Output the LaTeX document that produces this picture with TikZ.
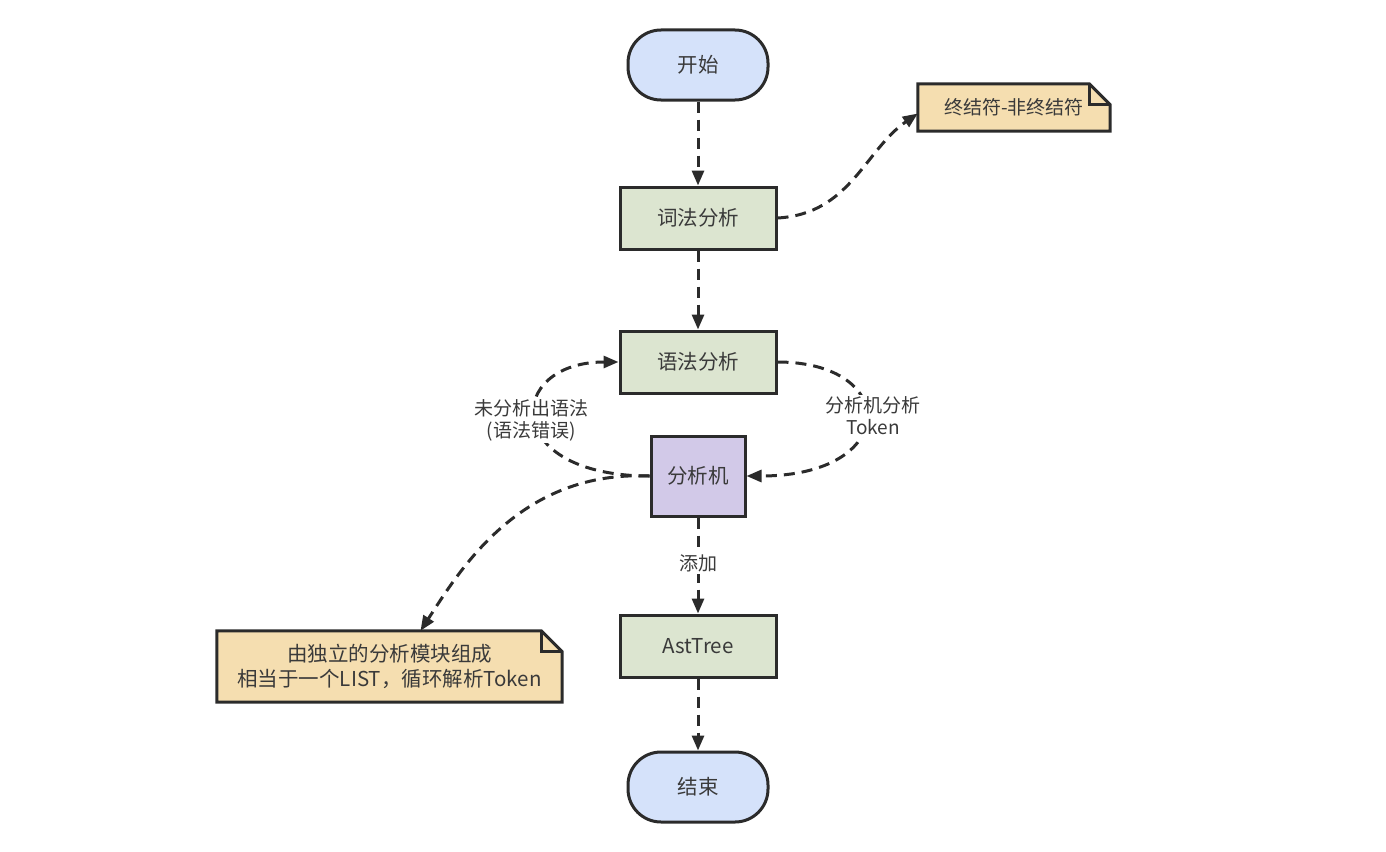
\documentclass[tikz,border=0pt]{standalone}
\usepackage{fontspec}
\newfontfamily\cjk{Noto Sans CJK SC}
\usetikzlibrary{arrows.meta,calc}
\definecolor{edgec}{HTML}{2B2B2B}
\definecolor{txtc}{HTML}{3A3A3A}
\definecolor{termfill}{HTML}{D5E2FA}
\definecolor{procfill}{HTML}{DCE5D0}
\definecolor{machfill}{HTML}{D2C9E8}
\definecolor{notefill}{HTML}{F5DEB0}
\tikzset{
  base/.style={font=\cjk\fontsize{20.5}{24}\selectfont, text=txtc, line width=3pt, draw=edgec, inner sep=0pt},
  term/.style={base, fill=termfill, minimum width=140pt, minimum height=70pt, rounded corners=33pt},
  proc/.style={base, fill=procfill, minimum width=156pt, minimum height=62pt},
  mach/.style={base, fill=machfill, minimum width=94pt, minimum height=80pt},
  notetxt/.style={font=\cjk\fontsize{20.5}{25}\selectfont, text=txtc, align=center, inner sep=0pt},
  lbl/.style={font=\cjk\fontsize{19}{22}\selectfont, text=txtc, align=center, fill=white, inner sep=2pt},
  flow/.style={draw=edgec, line width=3pt, dash pattern=on 11pt off 7pt, -{Triangle[length=15pt,width=12pt]}},
  notebg/.style={draw=edgec, line width=3pt, fill=notefill, line join=miter}
}
\newcommand\dognote[1]{%
  \path[notebg] (#1.south west) -- (#1.north west) -- ($(#1.north east)+(-21,0)$) -- ($(#1.north east)+(0,21)$) -- (#1.south east) -- cycle;
  \draw[edgec, line width=3pt] ($(#1.north east)+(-21,0)$) -- ($(#1.north east)+(-21,21)$) -- ($(#1.north east)+(0,21)$);
}
\begin{document}
\begin{tikzpicture}[x=1pt,y=-1pt]
\useasboundingbox (0,0) rectangle (1386,851);
% nodes
\node[term] (start) at (698,65) {开始};
\node[proc] (lex) at (698,218) {词法分析};
\node[proc] (syn) at (698,362) {语法分析};
\node[mach] (anl) at (698,476) {分析机};
\node[proc] (ast) at (698,646) {AstTree};
\node[term] (end) at (698,787) {结束};
% notes
\node[minimum width=192pt, minimum height=47pt, inner sep=0pt] (n1) at (1014,107.5) {};
\dognote{n1}
\node[notetxt, font=\cjk\fontsize{19}{23}\selectfont] (n1t) at (1014,107.5) {终结符-非终结符};
\node[minimum width=345pt, minimum height=71pt, inner sep=0pt] (n2) at (389.5,666.5) {};
\dognote{n2}
\node[notetxt] (n2t) at (389.5,666.5) {由独立的分析模块组成\\相当于一个LIST，循环解析Token};
% connectors
\draw[flow] (start) -- (lex);
\draw[flow] (lex) -- (syn);
\draw[flow] (lex.east) .. controls (850,214) and (865,150) .. ($(n1.west)+(0,6)$);
\draw[flow] (syn.east) .. controls (900,362) and (900,476) .. (anl.east);
\draw[flow] (anl.west) .. controls (500,476) and (505,362) .. (syn.west);
\draw[flow] (anl.west) .. controls (520,470) and (460,570) .. ($(n2.north)+(31,0)$);
\draw[flow] (anl) -- node[lbl, pos=0.48] (addl) {添加} (ast);
\draw[flow] (ast) -- (end);
% edge labels
\node[lbl] (l1) at (873,416) {分析机分析\\Token};
\node[lbl] (l2) at (531,420) {未分析出语法\\(语法错误)};
\end{tikzpicture}
\end{document}
